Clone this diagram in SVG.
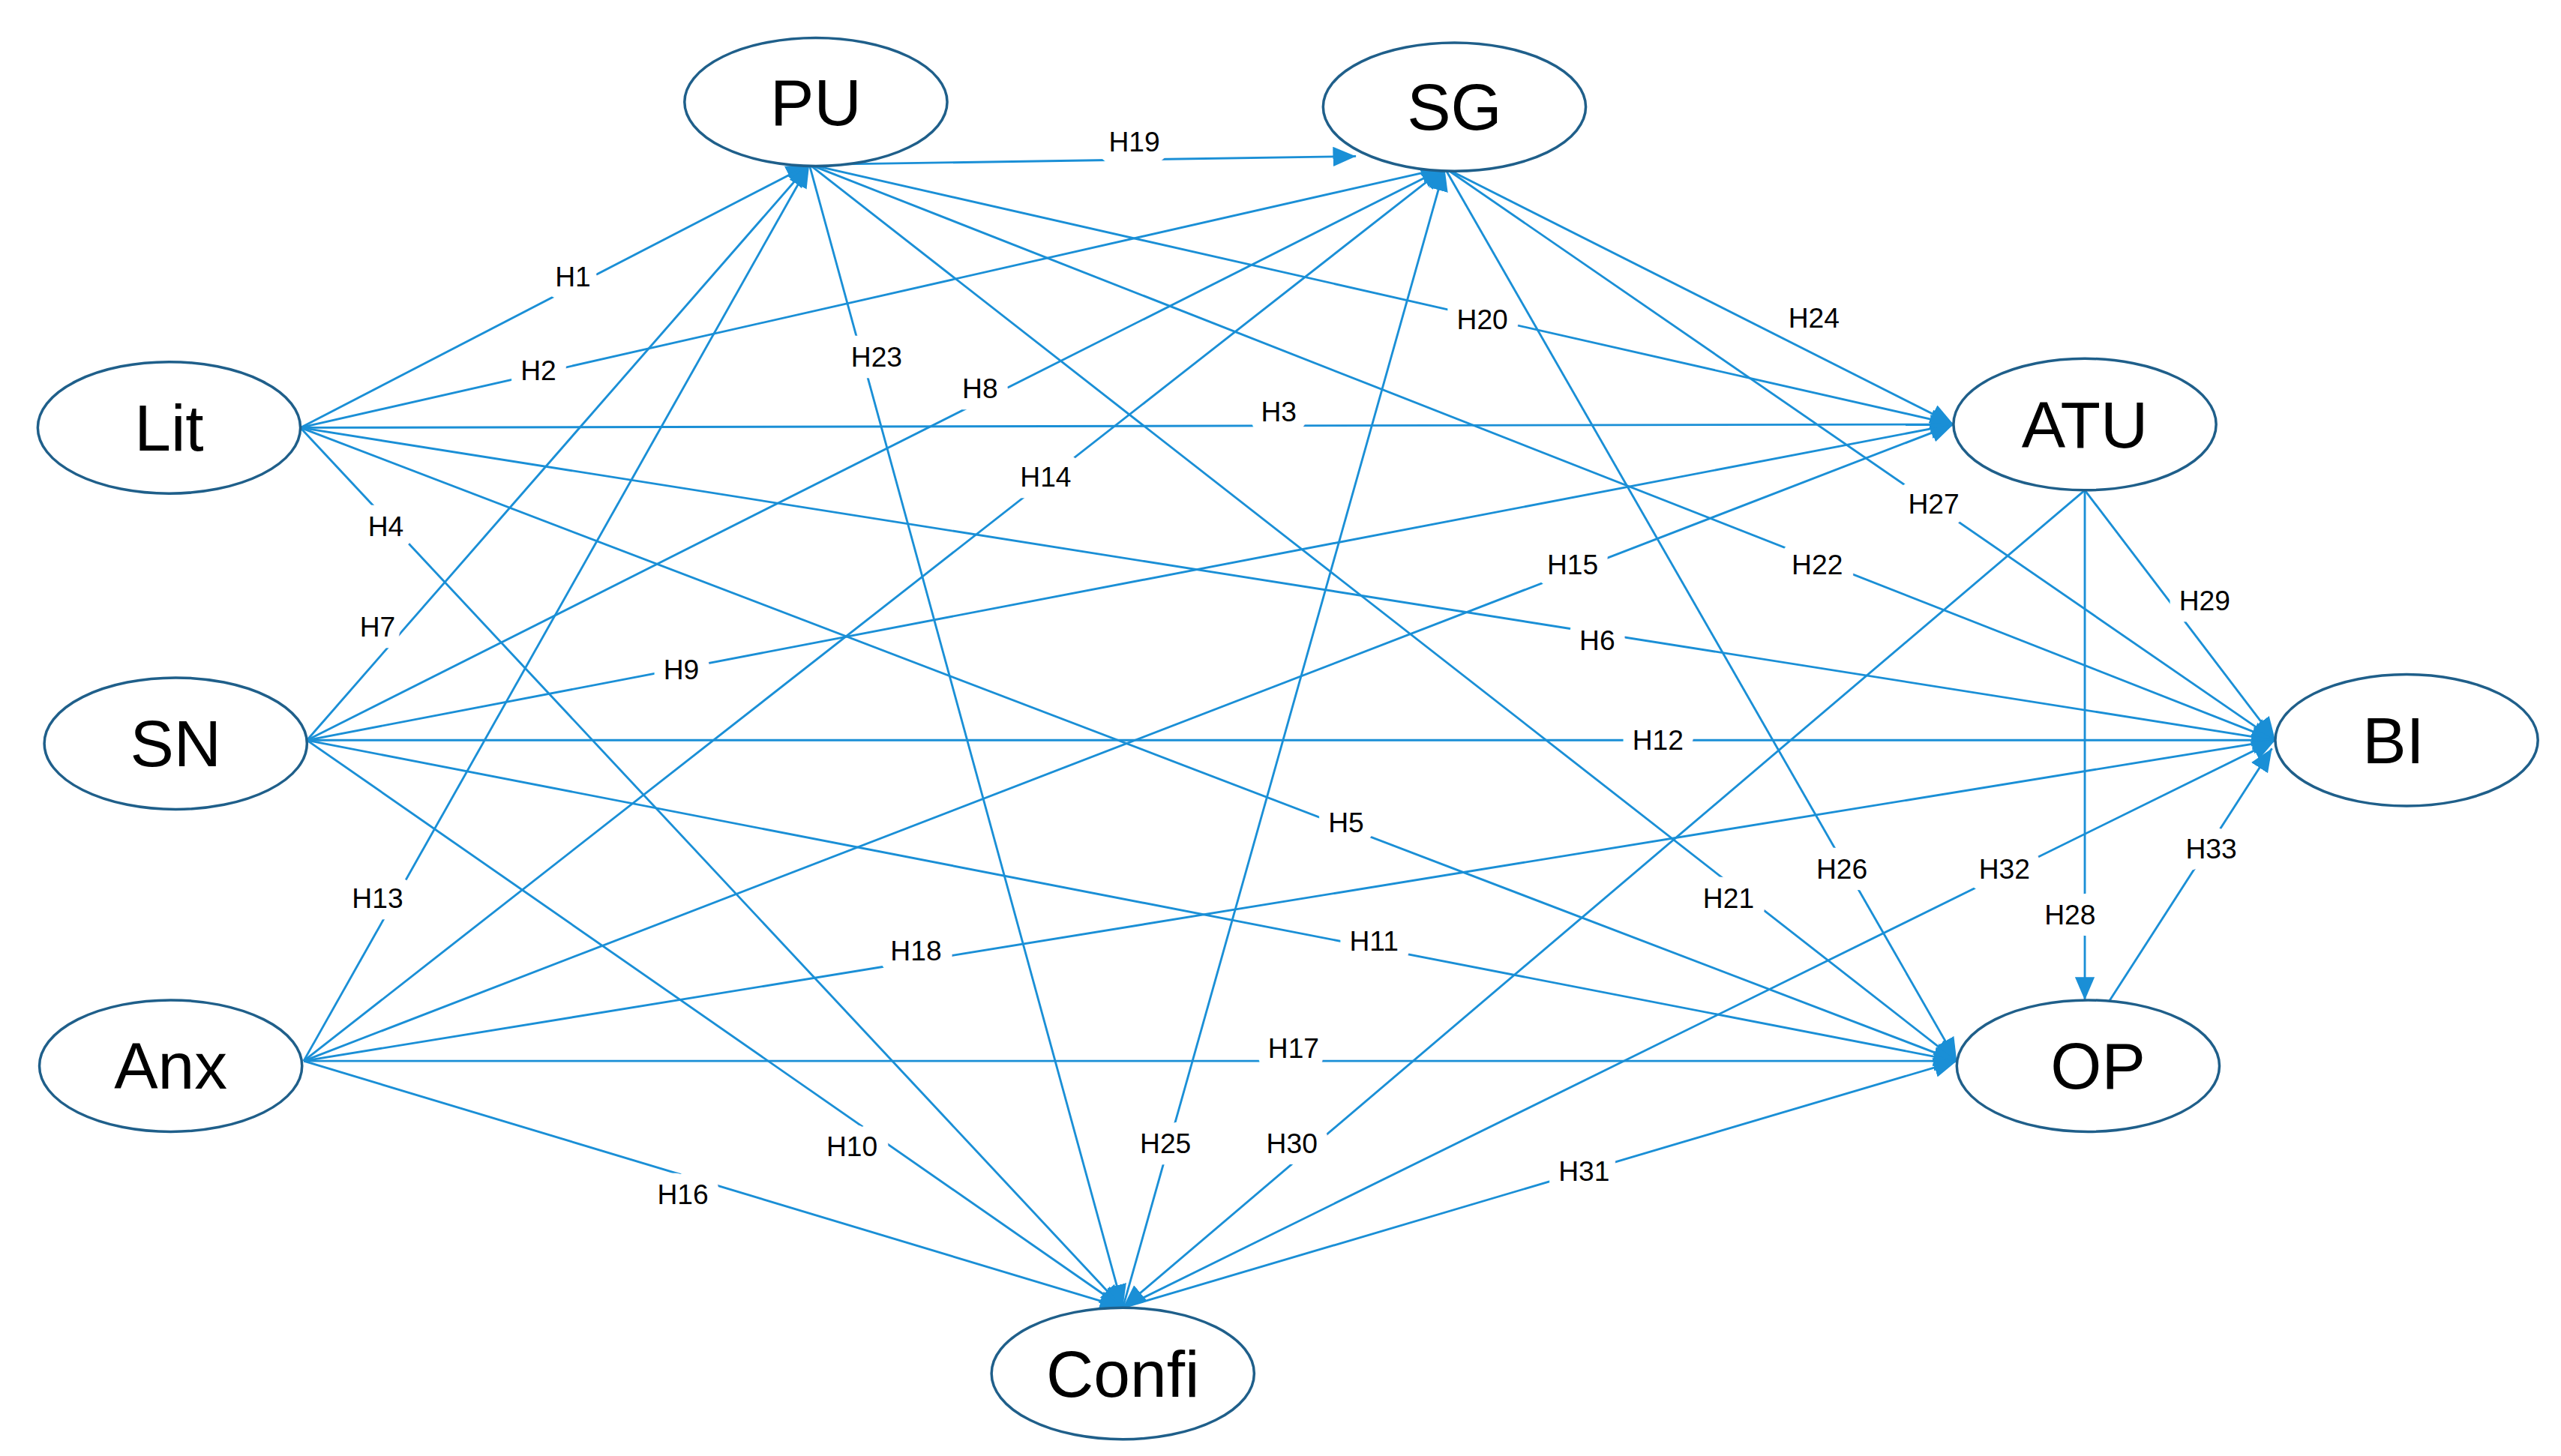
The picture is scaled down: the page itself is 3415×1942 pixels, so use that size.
<svg xmlns="http://www.w3.org/2000/svg" width="3415" height="1942" viewBox="0 0 3415 1942">
<defs>
<marker id="a" markerUnits="userSpaceOnUse" markerWidth="16" markerHeight="14" refX="14" refY="6" orient="auto"><path d="M0,0 L14,6 L0,12 Z" fill="#1a8fd6"/></marker>
<style>
.n ellipse{fill:#fff;stroke:#1f5f8a;stroke-width:1.6}
.n text{font-family:"Liberation Sans",Arial,sans-serif;font-size:40px;text-anchor:middle;fill:#000}
#edges line{stroke:#1a8fd6;stroke-width:1.3}
#edges line.h{marker-end:url(#a)}
#labels text{font-family:"Liberation Sans",Arial,sans-serif;font-size:17px;text-anchor:middle;fill:#000;stroke:#fff;stroke-width:14px;paint-order:stroke;stroke-linejoin:round}
</style>
</defs>
<rect width="3415" height="1942" fill="#fff"/>
<g transform="scale(2.189,2.194)">
<g id="edges">
<line class="h" x1="183" y1="260" x2="493" y2="100"/>
<line class="h" x1="183" y1="260" x2="880" y2="102"/>
<line class="h" x1="183" y1="260" x2="1190" y2="258"/>
<line class="h" x1="183" y1="260" x2="684" y2="795"/>
<line class="h" x1="183" y1="260" x2="1192" y2="645"/>
<line class="h" x1="183" y1="260" x2="1386" y2="450"/>
<line class="h" x1="187" y1="450" x2="493" y2="100"/>
<line class="h" x1="187" y1="450" x2="880" y2="102"/>
<line class="h" x1="187" y1="450" x2="1190" y2="258"/>
<line class="h" x1="187" y1="450" x2="684" y2="795"/>
<line class="h" x1="187" y1="450" x2="1192" y2="645"/>
<line class="h" x1="187" y1="450" x2="1386" y2="450"/>
<line class="h" x1="185" y1="645" x2="493" y2="100"/>
<line class="h" x1="185" y1="645" x2="880" y2="102"/>
<line class="h" x1="185" y1="645" x2="1190" y2="258"/>
<line class="h" x1="185" y1="645" x2="684" y2="795"/>
<line class="h" x1="185" y1="645" x2="1192" y2="645"/>
<line class="h" x1="185" y1="645" x2="1386" y2="450"/>
<line class="h" x1="500" y1="100" x2="826" y2="95"/>
<line class="h" x1="493" y1="100" x2="1190" y2="258"/>
<line class="h" x1="493" y1="100" x2="1192" y2="645"/>
<line class="h" x1="493" y1="100" x2="1386" y2="450"/>
<line class="h" x1="493" y1="100" x2="684" y2="795"/>
<line class="h" x1="880" y1="102" x2="1190" y2="258"/>
<line class="h" x1="684" y1="795" x2="880" y2="102"/>
<line class="h" x1="880" y1="102" x2="1192" y2="645"/>
<line class="h" x1="880" y1="102" x2="1386" y2="450"/>
<line class="h" x1="1270" y1="298" x2="1270" y2="608"/>
<line class="h" x1="1270" y1="298" x2="1386" y2="450"/>
<line class="h" x1="1270" y1="298" x2="684" y2="795"/>
<line class="h" x1="684" y1="795" x2="1192" y2="645"/>
<line class="h" x1="684" y1="795" x2="1386" y2="450"/>
<line class="h" x1="1284" y1="610" x2="1384" y2="455"/>
</g>
<g id="labels">
<text x="349" y="174">H1</text><text x="328" y="231">H2</text><text x="779" y="256">H3</text>
<text x="235" y="326">H4</text><text x="820" y="506">H5</text><text x="973" y="395">H6</text>
<text x="230" y="387">H7</text><text x="597" y="242">H8</text><text x="415" y="413">H9</text>
<text x="519" y="703">H10</text><text x="837" y="578">H11</text><text x="1010" y="456">H12</text>
<text x="230" y="552">H13</text><text x="637" y="296">H14</text><text x="958" y="349">H15</text>
<text x="416" y="732">H16</text><text x="788" y="643">H17</text><text x="558" y="584">H18</text>
<text x="691" y="92">H19</text><text x="903" y="200">H20</text><text x="1053" y="552">H21</text>
<text x="1107" y="349">H22</text><text x="534" y="223">H23</text><text x="1105" y="199">H24</text>
<text x="710" y="701">H25</text><text x="1122" y="534">H26</text><text x="1178" y="312">H27</text>
<text x="1261" y="562">H28</text><text x="1343" y="371">H29</text><text x="787" y="701">H30</text>
<text x="965" y="718">H31</text><text x="1221" y="534">H32</text><text x="1347" y="522">H33</text>
</g>
<g id="PU" class="n"><ellipse cx="497" cy="62" rx="80" ry="39"/><text x="497" y="76">PU</text></g>
<g id="SG" class="n"><ellipse cx="886" cy="65" rx="80" ry="39"/><text x="886" y="79">SG</text></g>
<g id="Lit" class="n"><ellipse cx="103" cy="260" rx="80" ry="40"/><text x="103" y="274">Lit</text></g>
<g id="ATU" class="n"><ellipse cx="1270" cy="258" rx="80" ry="40"/><text x="1270" y="272">ATU</text></g>
<g id="SN" class="n"><ellipse cx="107" cy="452" rx="80" ry="40"/><text x="107" y="466">SN</text></g>
<g id="BI" class="n"><ellipse cx="1466" cy="450" rx="80" ry="40"/><text x="1458" y="464">BI</text></g>
<g id="Anx" class="n"><ellipse cx="104" cy="648" rx="80" ry="40"/><text x="104" y="662">Anx</text></g>
<g id="OP" class="n"><ellipse cx="1272" cy="648" rx="80" ry="40"/><text x="1278" y="662">OP</text></g>
<g id="Confi" class="n"><ellipse cx="684" cy="835" rx="80" ry="40"/><text x="684" y="849">Confi</text></g>
</g>
</svg>
